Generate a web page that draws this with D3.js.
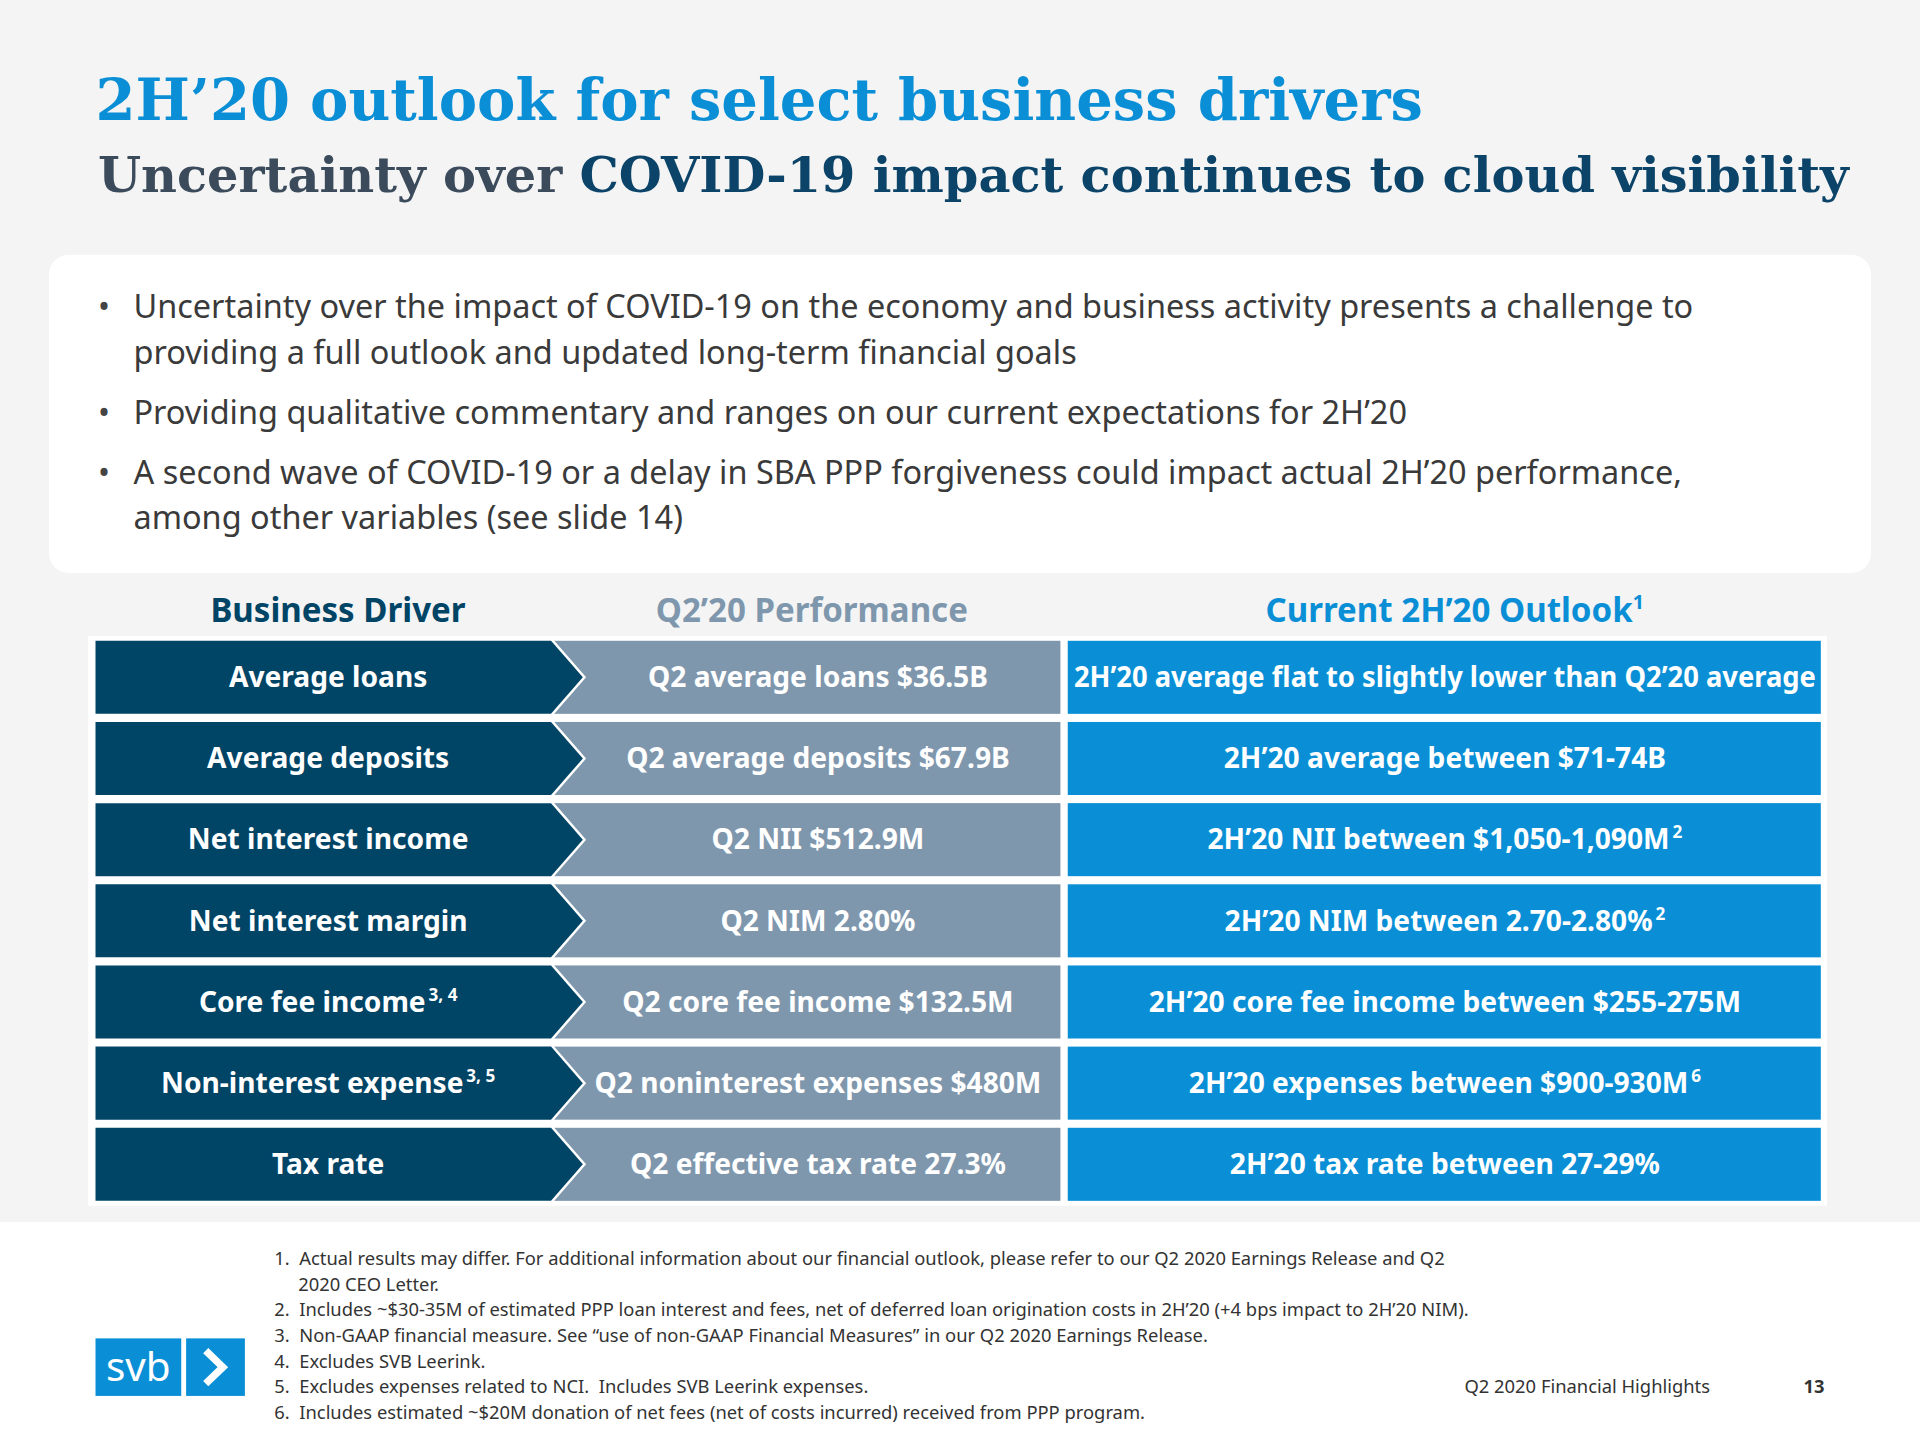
<!DOCTYPE html>
<html>
<head>
<meta charset="utf-8">
<script src="https://cdn.jsdelivr.net/npm/d3@7"></script>
<style>
  body { margin: 0; background: #fff; }
  svg { display: block; }
</style>
</head>
<body>
<div id="chart"></div>
<script>
// slide is laid out in 1568x1176 units and scaled to the window
let W = 1568, H = 1176
let drivers = ["Average loans", "Average deposits", "Net interest income", "Net interest margin", "Core fee income", "Non-interest expense", "Tax rate"]
let driverSup = ["", "", "", "", "3, 4", "3, 5", ""]
let performance = ["Q2 average loans $36.5B", "Q2 average deposits $67.9B", "Q2 NII $512.9M", "Q2 NIM 2.80%", "Q2 core fee income $132.5M", "Q2 noninterest expenses $480M", "Q2 effective tax rate 27.3%"]
let outlook = ["2H\u201920 average flat to slightly lower than Q2\u201920 average", "2H\u201920 average between $71-74B", "2H\u201920 NII between $1,050-1,090M", "2H\u201920 NIM between 2.70-2.80%", "2H\u201920 core fee income between $255-275M", "2H\u201920 expenses between $900-930M", "2H\u201920 tax rate between 27-29%"]
let outlookSup = ["", "", "2", "2", "", "6", ""]
let headers = ["Business Driver", "Q2\u201920 Performance", "Current 2H\u201920 Outlook"]
let bullets = [
  ["Uncertainty over the impact of COVID-19 on the economy and business activity presents a challenge to", "providing a full outlook and updated long-term financial goals"],
  ["Providing qualitative commentary and ranges on our current expectations for 2H\u201920"],
  ["A second wave of COVID-19 or a delay in SBA PPP forgiveness could impact actual 2H\u201920 performance,", "among other variables (see slide 14)"]
]
let footnotes = [
  "1.  Actual results may differ. For additional information about our financial outlook, please refer to our Q2 2020 Earnings Release and Q2",
  "     2020 CEO Letter.",
  "2.  Includes ~$30-35M of estimated PPP loan interest and fees, net of deferred loan origination costs in 2H\u201920 (+4 bps impact to 2H\u201920 NIM).",
  "3.  Non-GAAP financial measure. See \u201cuse of non-GAAP Financial Measures\u201d in our Q2 2020 Earnings Release.",
  "4.  Excludes SVB Leerink.",
  "5.  Excludes expenses related to NCI.  Includes SVB Leerink expenses.",
  "6.  Includes estimated ~$20M donation of net fees (net of costs incurred) received from PPP program."
]

let navy = "#004466", gray = "#7f97ad", blue = "#0a8fd6"
let font = "'Noto Sans', sans-serif"
let slab = "'DejaVu Serif', serif"

let svg = d3.select("#chart").append("svg")
  .attr("width", 1920).attr("height", 1440)
  .attr("viewBox", `0 0 ${W} ${H}`)

svg.append("rect").attr("width", W).attr("height", 998).attr("fill", "#f4f4f4")

let fit = (sel, max) => sel.each(function () {
  if (this.getComputedTextLength() > max) d3.select(this).attr("textLength", max).attr("lengthAdjust", "spacingAndGlyphs")
})
// shrink the font instead of squeezing glyphs
let shrink = (sel, max) => sel.each(function () {
  let w = this.getComputedTextLength(), fs = +d3.select(this).attr("font-size")
  if (w > max) d3.select(this).attr("font-size", fs * max / w)
})

svg.append("text").attr("x", 78).attr("y", 98)
  .attr("font-family", slab).attr("font-weight", "bold").attr("font-size", 56).attr("fill", blue)
  .text("2H\u201920 outlook for select business drivers")
  .call(shrink, 1084)

let sub = svg.append("text").attr("x", 80).attr("y", 157)
  .attr("font-family", slab).attr("font-weight", "bold").attr("font-size", 50)
sub.append("tspan").attr("fill", "#3b4b5b").text("Uncertainty over ")
sub.append("tspan").attr("fill", "#0b4468").text("COVID-19 impact continues to cloud visibility")
sub.call(shrink, 1430)

svg.append("rect").attr("x", 40).attr("y", 208).attr("width", 1488).attr("height", 260)
  .attr("rx", 16).attr("fill", "#fff")

let by = 260
bullets.forEach((lines, i) => {
  svg.append("text").attr("x", 80).attr("y", by).attr("font-family", font).attr("font-size", 26).attr("fill", "#444").text("\u2022")
  lines.forEach((l, j) => {
    svg.append("text").attr("x", 109).attr("y", by + j * 37)
      .attr("font-family", font).attr("font-size", 26.5).attr("fill", "#3a3a3a").text(l)
      .call(fit, 1310)
  })
  by += lines.length * 37 + 12
})

// header
let cols = [{ x: 276, c: navy }, { x: 663, c: gray }, { x: 1188, c: blue }]
headers.forEach((h, i) => {
  let t = svg.append("text").attr("x", cols[i].x).attr("y", 508).attr("text-anchor", "middle")
    .attr("font-family", font).attr("font-weight", "bold").attr("font-size", 27).attr("fill", cols[i].c).text(h)
  if (i === 2) t.append("tspan").attr("font-size", 16).attr("dy", -11).text("1")
})

let y = d3.scaleBand().domain(d3.range(drivers.length)).range([520, 984]).paddingInner(0.1).paddingOuter(0.05)
let rows = svg.selectAll("g.row").data(drivers).join("g").attr("class", "row")
  .attr("transform", (d, i) => `translate(0,${y(i)})`)
let bh = y.bandwidth()

rows.append("rect").attr("x", 72).attr("y", -4).attr("width", 1420).attr("height", bh + 8).attr("fill", "#fff")
rows.append("rect").attr("x", 452).attr("y", 0).attr("width", 414).attr("height", bh).attr("fill", gray)
rows.append("path")
  .attr("d", `M78,0 L450,0 L476,${bh / 2} L450,${bh} L78,${bh} Z`)
  .attr("fill", navy).attr("stroke", "#fff").attr("stroke-width", 4).attr("paint-order", "stroke")
rows.append("rect").attr("x", 872).attr("y", 0).attr("width", 615).attr("height", bh).attr("fill", blue)

let cell = (sel, x, max, txt, sup) => {
  let t = sel.append("text").attr("x", x).attr("y", bh / 2 + 8).attr("text-anchor", "middle")
    .attr("font-family", font).attr("font-weight", "bold").attr("font-size", 23).attr("fill", "#fff")
  t.append("tspan").text(txt)
  t.each(function (d, i) {
    let s = sup(i)
    if (s) d3.select(this).append("tspan").attr("font-size", 14).attr("dy", -9).text("\u2009" + s)
  })
  t.call(fit, max)
}
cell(rows, 268, 360, d => d, i => driverSup[i])
cell(rows, 668, 390, (d, i) => performance[i], i => "")
cell(rows, 1180, 606, (d, i) => outlook[i], i => outlookSup[i])

footnotes.forEach((f, i) => {
  svg.append("text").attr("x", 224).attr("y", 1033 + i * 21)
    .attr("font-family", font).attr("font-size", 15).attr("fill", "#333")
    .attr("xml:space", "preserve").style("white-space", "pre").text(f)
})

// logo
svg.append("rect").attr("x", 78).attr("y", 1093).attr("width", 70).attr("height", 47).attr("fill", blue)
svg.append("text").attr("x", 113).attr("y", 1128).attr("text-anchor", "middle")
  .attr("font-family", font).attr("font-size", 33).attr("fill", "#fff").text("svb")
svg.append("rect").attr("x", 152).attr("y", 1093).attr("width", 48).attr("height", 47).attr("fill", blue)
svg.append("path").attr("d", "M168,1103 L182,1116.5 L168,1130").attr("fill", "none")
  .attr("stroke", "#fff").attr("stroke-width", 6)

svg.append("text").attr("x", 1196).attr("y", 1138).attr("font-family", font).attr("font-size", 15).attr("fill", "#333").text("Q2 2020 Financial Highlights")
svg.append("text").attr("x", 1490).attr("y", 1138).attr("text-anchor", "end").attr("font-family", font).attr("font-weight", "bold").attr("font-size", 15).attr("fill", "#333").text("13")
</script>
</body>
</html>
